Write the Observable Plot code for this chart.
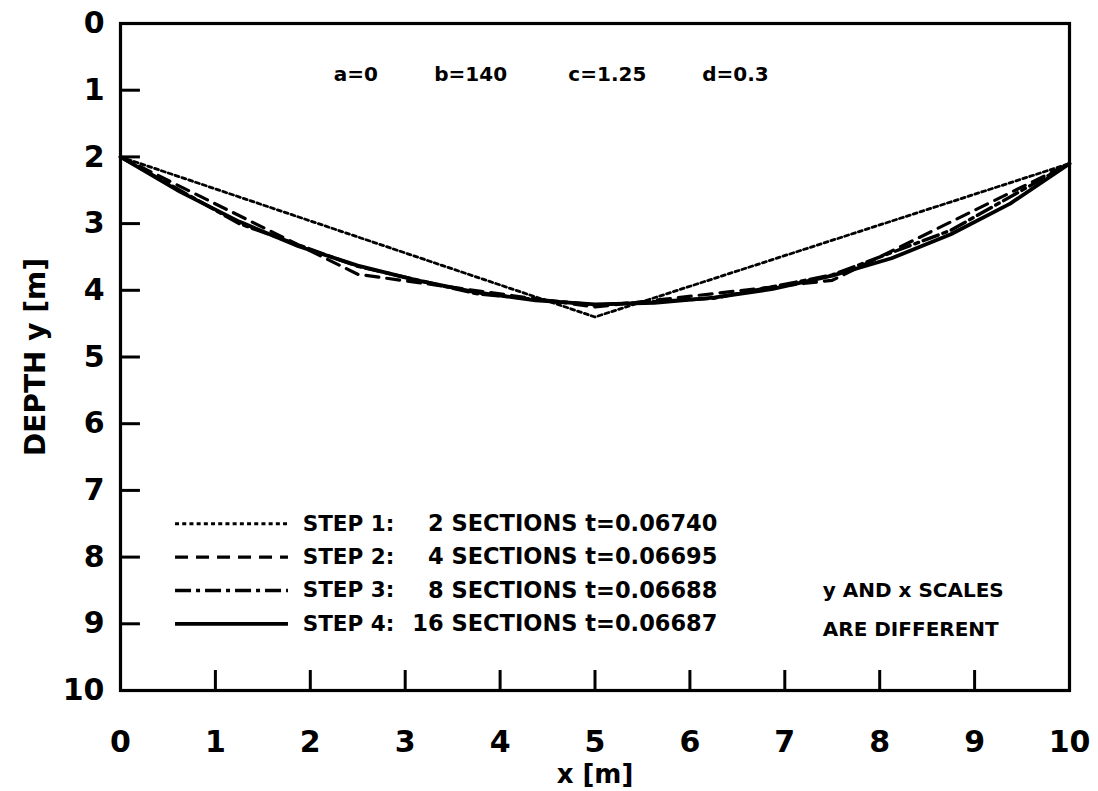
<!DOCTYPE html>
<html><head><meta charset="utf-8">
<script src="https://cdn.jsdelivr.net/npm/d3@7"></script>
<script src="https://cdn.jsdelivr.net/npm/@observablehq/plot@0.6"></script>
<style>body{margin:0;background:#fff} svg{display:block}</style>
</head><body><div id="chart"></div>
<script>
// ---- data ----
const xTicks = [0, 1, 2, 3, 4, 5, 6, 7, 8, 9, 10];
const yTicks = [0, 1, 2, 3, 4, 5, 6, 7, 8, 9, 10];
const innerTicks = [1, 2, 3, 4, 5, 6, 7, 8, 9];

const step1X = [0, 5, 10];
const step1Y = [2.0, 4.4, 2.1];
const step2X = [0, 2.5, 5, 7.5, 10];
const step2Y = [2.0, 3.76, 4.25, 3.85, 2.1];
const step3X = [0, 1.25, 2.5, 3.75, 5, 6.25, 7.5, 8.75, 10];
const step3Y = [2.0, 3.0, 3.64, 4.05, 4.22, 4.12, 3.77, 3.1, 2.1];
const step4X = [0, 0.625, 1.25, 1.875, 2.5, 3.125, 3.75, 4.375, 5, 5.625, 6.25, 6.875, 7.5, 8.125, 8.75, 9.375, 10];
const step4Y = [2.0, 2.52, 2.97, 3.34, 3.63, 3.85, 4.03, 4.15, 4.21, 4.19, 4.11, 3.98, 3.78, 3.52, 3.16, 2.7, 2.1];

const legendSteps = ["STEP 1:", "STEP 2:", "STEP 3:", "STEP 4:"];
const legendTexts = ["2 SECTIONS t=0.06740", "4 SECTIONS t=0.06695", "8 SECTIONS t=0.06688", "16 SECTIONS t=0.06687"];
const params = ["a=0", "b=140", "c=1.25", "d=0.3"];
const noteLines = ["y AND x SCALES", "ARE DIFFERENT"];
const xLabel = "x [m]";
const yLabel = "DEPTH y [m]";

// ---- layout ----
const legendRowY = [7.5, 8.0, 8.5, 9.0];
const paramPosX = [2.48, 3.69, 5.13, 6.48];
const noteRowY = [8.5, 9.08];

const toPts = (xs, ys) => xs.map((x, i) => ({x, y: ys[i]}));
const styles = [
  {strokeDasharray: "4,3.2", strokeWidth: 2.8},
  {strokeDasharray: "13,8", strokeWidth: 3.2},
  {strokeDasharray: "16,5,4,5", strokeWidth: 3.4},
  {strokeWidth: 3.8}
];
const series = [toPts(step1X, step1Y), toPts(step2X, step2Y), toPts(step3X, step3Y), toPts(step4X, step4Y)];

const marks = [];
series.forEach((s, i) => marks.push(Plot.line(s, {x: "x", y: "y", stroke: "black", ...styles[i]})));
legendSteps.forEach((lab, i) => {
  marks.push(Plot.ruleY([legendRowY[i]], {x1: 0.58, x2: 1.77, stroke: "black", ...styles[i]}));
});
marks.push(Plot.text(legendSteps, {x: 1.92, y: (d, i) => legendRowY[i], text: d => d, textAnchor: "start", fontSize: 21.5}));
marks.push(Plot.text(legendTexts, {x: 6.29, y: (d, i) => legendRowY[i], text: d => d, textAnchor: "end", fontSize: 22.5, letterSpacing: "2px"}));
marks.push(Plot.text(params, {x: (d, i) => paramPosX[i], y: 0.76, text: d => d, fontSize: 20}));
marks.push(Plot.text(noteLines, {x: 7.4, y: (d, i) => noteRowY[i], text: d => d, textAnchor: "start", fontSize: 20}));
marks.push(Plot.ruleY(innerTicks, {x1: 0, x2: 0.21, stroke: "black", strokeWidth: 3}));
marks.push(Plot.ruleX(innerTicks, {y1: 10, y2: 9.7, stroke: "black", strokeWidth: 3}));
marks.push(Plot.frame({stroke: "black", strokeWidth: 3.2}));
marks.push(Plot.axisY({ticks: yTicks, tickSize: 0, tickPadding: 16, fontSize: 30, label: null, tickFormat: d => String(d)}));
marks.push(Plot.axisX({ticks: xTicks, tickSize: 0, tickPadding: 40, fontSize: 30, label: null, tickFormat: d => String(d)}));
marks.push(Plot.text([xLabel], {frameAnchor: "bottom", dy: 92, fontSize: 26}));
marks.push(Plot.text([yLabel], {frameAnchor: "left", rotate: -90, dx: -84, textAnchor: "middle", fontSize: 28}));

const chart = Plot.plot({
  width: 1098,
  height: 791,
  marginLeft: 120,
  marginRight: 29,
  marginTop: 23,
  marginBottom: 101,
  style: {fontFamily: "DejaVu Sans", fontWeight: "bold", background: "#fff", color: "black"},
  x: {domain: [0, 10]},
  y: {domain: [0, 10], reverse: true},
  marks
});
document.getElementById("chart").appendChild(chart);
</script>
</body></html>
